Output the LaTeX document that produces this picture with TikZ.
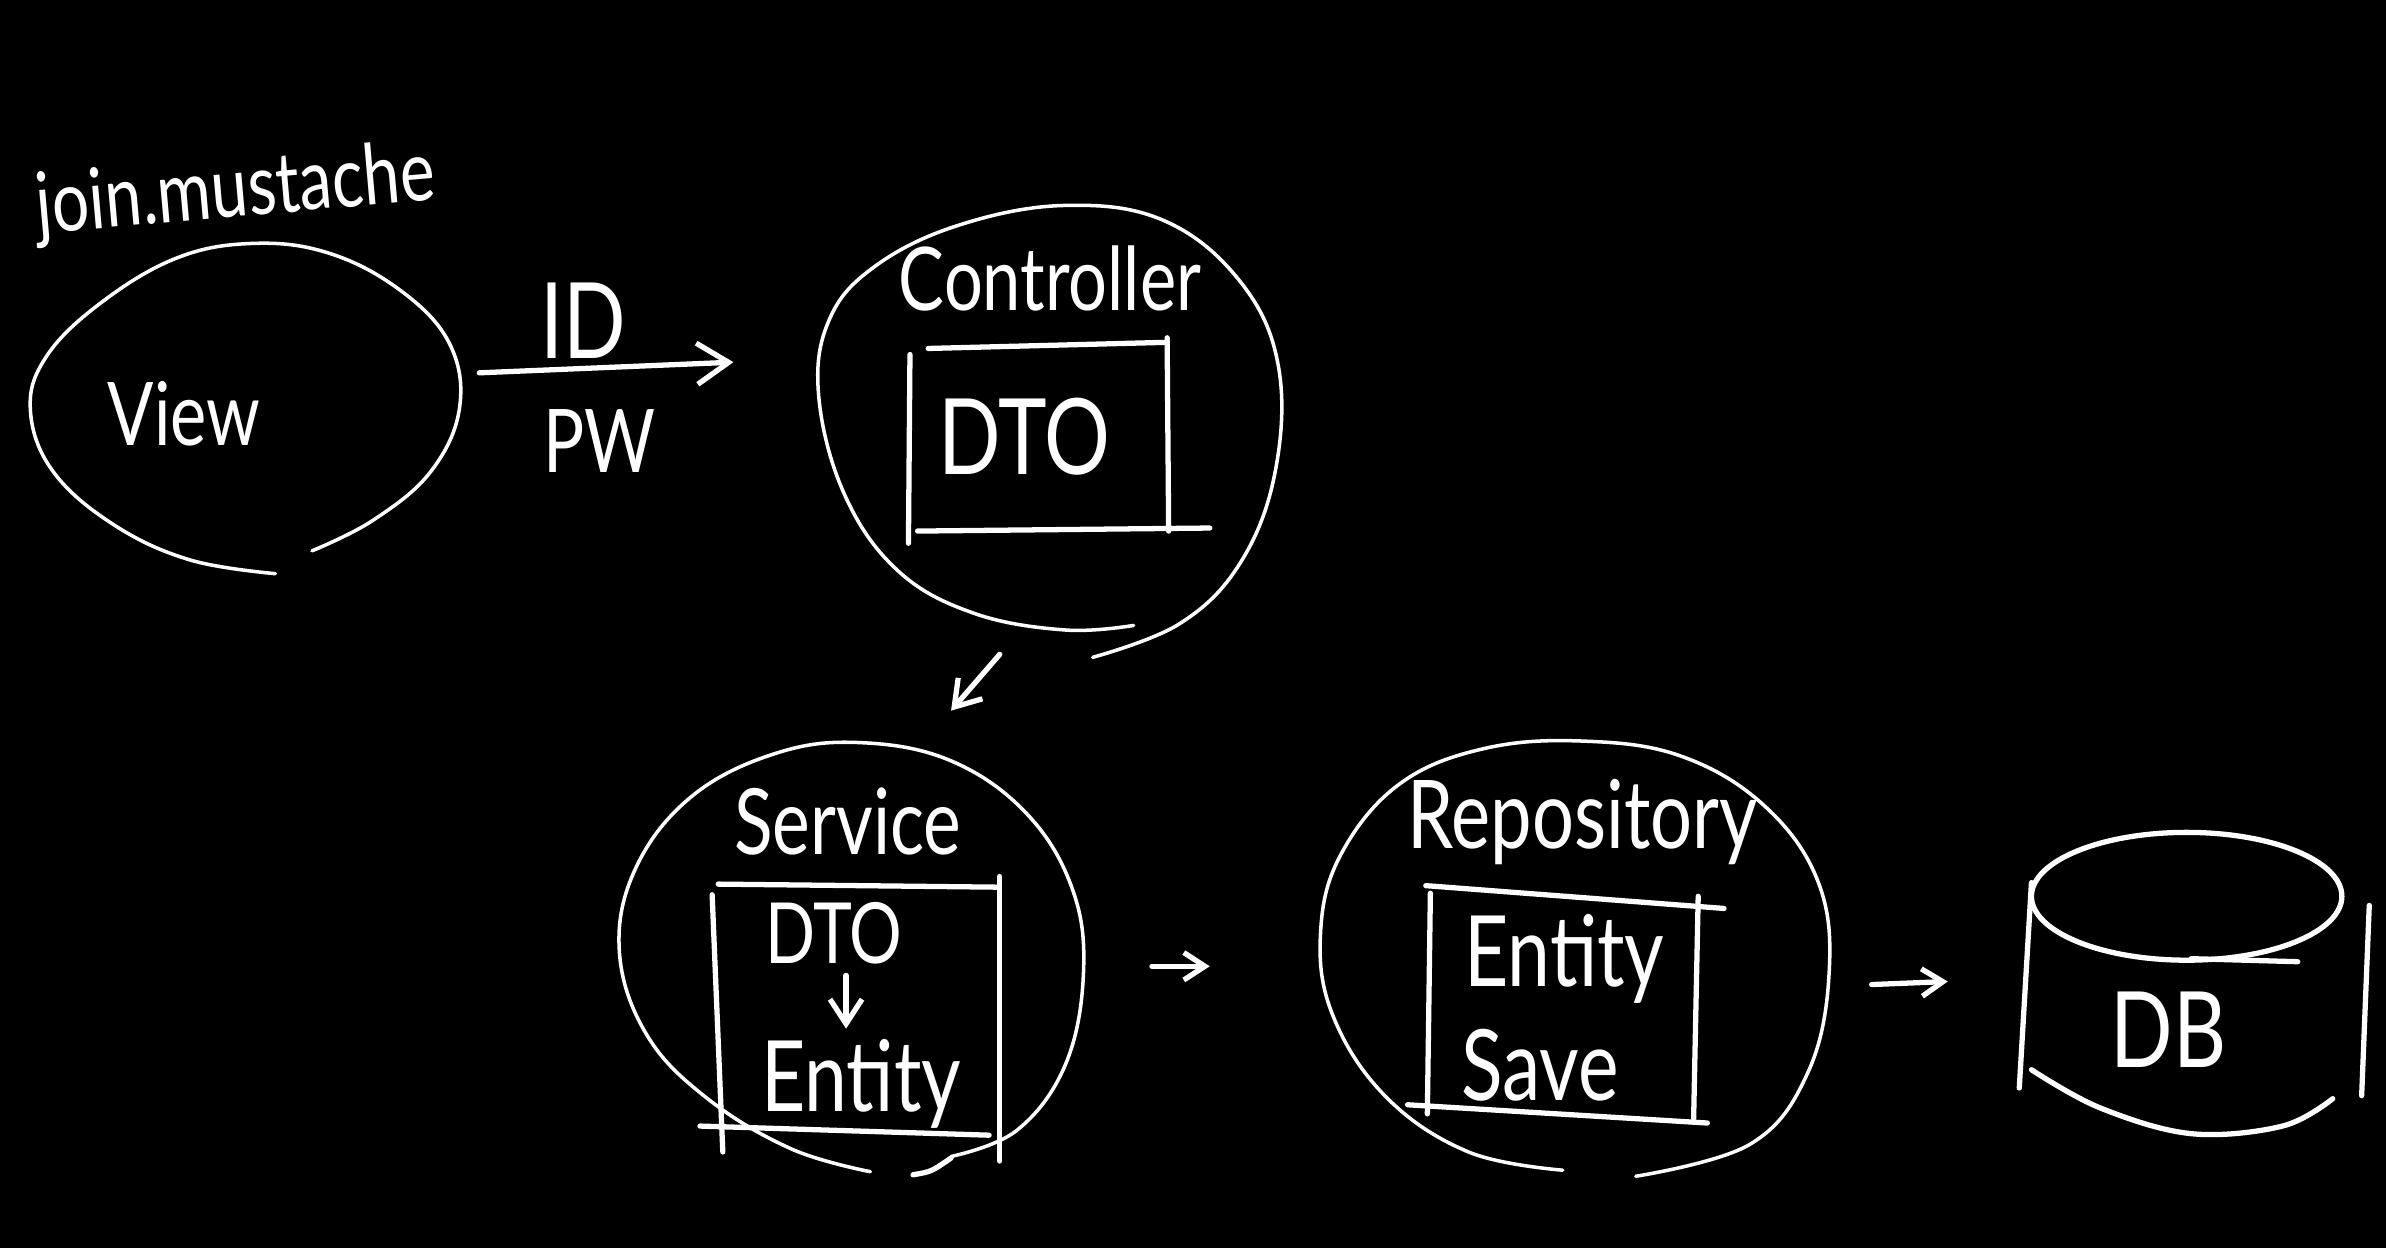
\documentclass[tikz,border=0pt]{standalone}
\usepackage{fontspec}
\newfontfamily\hand[FakeStretch=0.78]{Lato}
\usetikzlibrary{arrows.meta}
\begin{document}
\begin{tikzpicture}[x=0.015217cm,y=-0.015217cm, line cap=round, line join=round,
  ink/.style={draw=white, line width=1pt},
  boxline/.style={draw=white, line width=1.5pt},
  txt/.style={text=white, inner sep=0pt, font=\hand\fontsize{#1}{#1}\selectfont},
  arr/.style={draw=white, line width=1.5pt, -{Straight Barb[length=#1, width=#1*1.3, line width=1.5pt]}}]
\fill[black] (0,0) rectangle (1568,820);
\useasboundingbox (0,0) rectangle (1568,820);

% ---------- View ----------
\draw[ink] plot[smooth, tension=0.65] coordinates {(205,362) (245,342) (283,310) (302,268) (295,225) (262,190) (215,166) (165,160) (115,170) (65,200) (30,235) (20,270) (35,310) (75,345) (125,368) (181,377)};
\node[txt=25] (view) at (121,272) {View};
\node[txt=24, rotate=5] (join) at (155,127) {join.mustache};

% ---------- ID / PW arrow ----------
\coordinate (a1) at (315,245);
\coordinate (a2) at (482,238);
\draw[arr=9pt] (a1) -- (a2);
\node[txt=30] (id) at (383,211) {ID};
\node[txt=25] (pw) at (394,290) {PW};

% ---------- Controller ----------
\draw[ink] plot[smooth, tension=0.65] coordinates {(745,411) (700,414) (640,403) (590,375) (555,325) (538,260) (545,210) (575,175) (630,148) (700,135) (765,145) (815,185) (840,240) (838,310) (815,370) (775,410) (718,432)};
\node[txt=25] (ctrl) at (690,183) {Controller};
\draw[boxline] (598,233) -- (597,357);
\draw[boxline] (610,229) -- (765,225);
\draw[boxline] (767,222) -- (768,349);
\draw[boxline] (603,349) -- (795,347);
\node[txt=30] (cdto) at (673,287) {DTO};

% ---------- Controller -> Service ----------
\coordinate (b1) at (657,430);
\coordinate (b2) at (625,467);
\draw[arr=7pt] (b1) -- (b2);

% ---------- Service ----------
\draw[ink] plot[smooth, tension=0.65] coordinates {(572,770) (520,755) (465,722) (425,680) (407,625) (418,570) (455,523) (510,495) (565,488) (625,500) (675,535) (705,585) (712,640) (700,700) (668,743) (625,760)};
\draw[boxline] (600,772) .. controls (612,770) .. (625,761);
\node[txt=26] (serv) at (557,540) {Service};
\draw[boxline] (472,581) -- (655,583);
\draw[boxline] (468,588) -- (475,757);
\draw[boxline] (657,576) -- (657,763);
\draw[boxline] (460,740) -- (650,746);
\node[txt=24] (sdto) at (548,613) {DTO};
\node[txt=28] (sent) at (566,712) {Entity};
\coordinate (s1) at (556,641);
\coordinate (s2) at (556,676);
\draw[arr=7pt] (s1) -- (s2);

% ---------- Service -> Repository ----------
\coordinate (c1) at (757,635);
\coordinate (c2) at (795,635);
\draw[arr=6pt] (c1) -- (c2);

% ---------- Repository ----------
\draw[ink] plot[smooth, tension=0.65] coordinates {(1027,769) (965,757) (910,720) (875,665) (868,610) (882,560) (920,515) (975,492) (1040,487) (1105,497) (1160,530) (1195,580) (1202,640) (1188,705) (1150,752) (1075,773)};
\node[txt=27] (repo) at (1040,540) {Repository};
\draw[boxline] (937,582) -- (1133,597);
\draw[boxline] (940,587) -- (938,732);
\draw[boxline] (1116,589) -- (1113,735);
\draw[boxline] (925,726) -- (1122,738);
\node[txt=28] (rent) at (1028,630) {Entity};
\node[txt=28] (save) at (1012,700) {Save};

% ---------- Repository -> DB ----------
\coordinate (d1) at (1230,647);
\coordinate (d2) at (1280,645);
\draw[arr=6pt] (d1) -- (d2);

% ---------- DB ----------
\draw[boxline] (1437,589) ellipse [x radius=102, y radius=42];
\draw[boxline] (1440,630) -- (1510,632);
\draw[boxline] (1335,580) -- (1327,715);
\draw[boxline] (1557,595) -- (1552,720);
\draw[boxline] plot[smooth, tension=0.6] coordinates {(1335,703) (1380,728) (1440,745) (1500,740) (1533,722)};
\node[txt=30] (db) at (1425,677) {DB};
\end{tikzpicture}
\end{document}
